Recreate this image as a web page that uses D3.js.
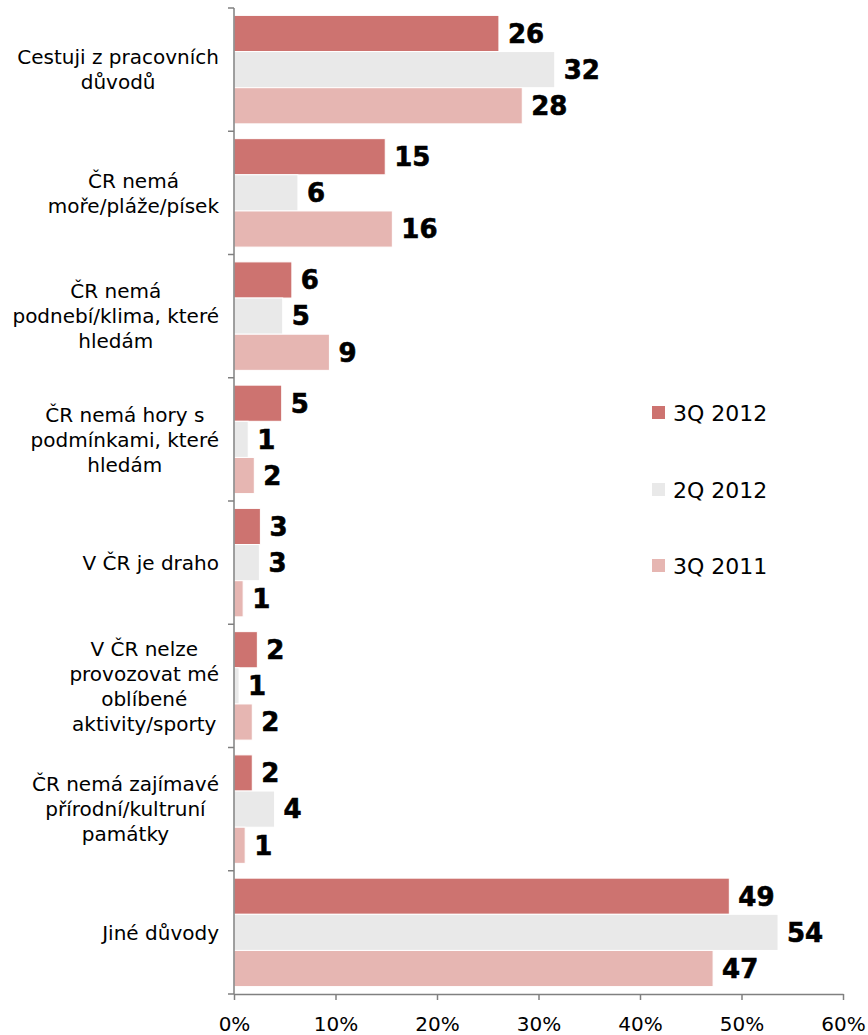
<!DOCTYPE html>
<html><head><meta charset="utf-8">
<script src="https://cdn.jsdelivr.net/npm/d3@7"></script>
<style>body{margin:0;background:#fff}svg{display:block}text{font-family:"DejaVu Sans",Verdana,sans-serif}</style>
</head><body><svg id="c" width="868" height="1035"></svg>
<script>
const categories = [
  ["Cestuji z pracovních","důvodů"],
  ["ČR nemá","moře/pláže/písek"],
  ["ČR nemá","podnebí/klima, které","hledám"],
  ["ČR nemá hory s","podmínkami, které","hledám"],
  ["V ČR je draho"],
  ["V ČR nelze","provozovat mé","oblíbené","aktivity/sporty"],
  ["ČR nemá zajímavé","přírodní/kultruní","památky"],
  ["Jiné důvody"]
];
const seriesNames = ["3Q 2012","2Q 2012","3Q 2011"];
const seriesColors = ["#cd7370","#e9e9e9","#e6b6b2"];
const values3Q2012 = [26.1, 14.9, 5.7, 4.7, 2.6, 2.3, 1.8, 48.8];
const values2Q2012 = [31.6, 6.3, 4.8, 1.4, 2.5, 0.5, 4.0, 53.6];
const values3Q2011 = [28.4, 15.6, 9.4, 2.0, 0.9, 1.8, 1.1, 47.2];
const valueLabels3Q2012 = [26, 15, 6, 5, 3, 2, 2, 49];
const valueLabels2Q2012 = [32, 6, 5, 1, 3, 1, 4, 54];
const valueLabels3Q2011 = [28, 16, 9, 2, 1, 2, 1, 47];
const xTicks = [0,10,20,30,40,50,60];

(function(){
const series = [values3Q2012, values2Q2012, values3Q2011];
const labels = [valueLabels3Q2012, valueLabels2Q2012, valueLabels3Q2011];

const svg = d3.select("#c");
const pl = 234, pr = 843, pt = 8, pb = 994;
const x = d3.scaleLinear().domain([0,60]).range([pl,pr]);
const y = d3.scaleBand().domain(d3.range(categories.length)).range([pt,pb]).paddingInner(0.12).paddingOuter(0.06);
const ys = d3.scaleBand().domain([0,1,2]).range([0,y.bandwidth()]).padding(0);

categories.forEach((c,i)=>{
  const g = svg.append("g").attr("transform",`translate(0,${y(i)})`);
  series.forEach((s,k)=>{
    g.append("rect").attr("x",x(0)).attr("y",ys(k)).attr("width",x(s[i])-x(0)).attr("height",ys.bandwidth())
      .attr("fill",seriesColors[k]).attr("stroke","#fff").attr("stroke-width",1);
    g.append("text").attr("x",x(s[i])+9).attr("y",ys(k)+ys.bandwidth()/2).attr("dy","0.36em")
      .attr("font-size",26).attr("font-weight","bold").attr("fill","#000")
      .attr("stroke","#000").attr("stroke-width",0.6).text(labels[k][i]);
  });
});

const bandStep = (pb-pt)/categories.length;
svg.append("line").attr("x1",pl).attr("x2",pl).attr("y1",pt).attr("y2",pb).attr("stroke","#808080").attr("stroke-width",1.5);
d3.range(categories.length+1).forEach(i=>{
  const yy = pt + i*bandStep;
  svg.append("line").attr("x1",pl-6).attr("x2",pl).attr("y1",yy).attr("y2",yy).attr("stroke","#808080").attr("stroke-width",1.5);
});

const xa = svg.append("g").attr("transform",`translate(0,${pb})`)
  .call(d3.axisBottom(x).tickValues(xTicks).tickFormat(d=>d+"%").tickSize(6).tickSizeOuter(0));
xa.select(".domain").attr("stroke","#808080").attr("stroke-width",1.5);
xa.selectAll(".tick line").attr("stroke","#808080").attr("stroke-width",1.5);
xa.selectAll(".tick text").attr("font-size",20).attr("fill","#000").attr("font-family","DejaVu Sans, Verdana, sans-serif").attr("y",37).attr("dy",0);

const lh = 25;
categories.forEach((lines,i)=>{
  const cy = pt + (i+0.5)*bandStep;
  const t = svg.append("text").attr("font-size",20).attr("fill","#000").attr("text-anchor","middle");
  const n = lines.length;
  lines.forEach((l,j)=>{
    t.append("tspan").attr("x",0).attr("y",cy + (j-(n-1)/2)*lh).attr("dy","0.36em").text(l);
  });
  let maxW = 0;
  t.selectAll("tspan").each(function(){maxW=Math.max(maxW,this.getComputedTextLength());});
  t.selectAll("tspan").attr("x", 219 - maxW/2);
});

const legY = [413, 490, 566];
seriesNames.forEach((n,k)=>{
  svg.append("rect").attr("x",652).attr("y",legY[k]-7).attr("width",13).attr("height",13).attr("fill",seriesColors[k]);
  svg.append("text").attr("x",673).attr("y",legY[k]).attr("dy","0.36em").attr("font-size",22).attr("fill","#000").text(n);
});
})();
</script></body></html>
